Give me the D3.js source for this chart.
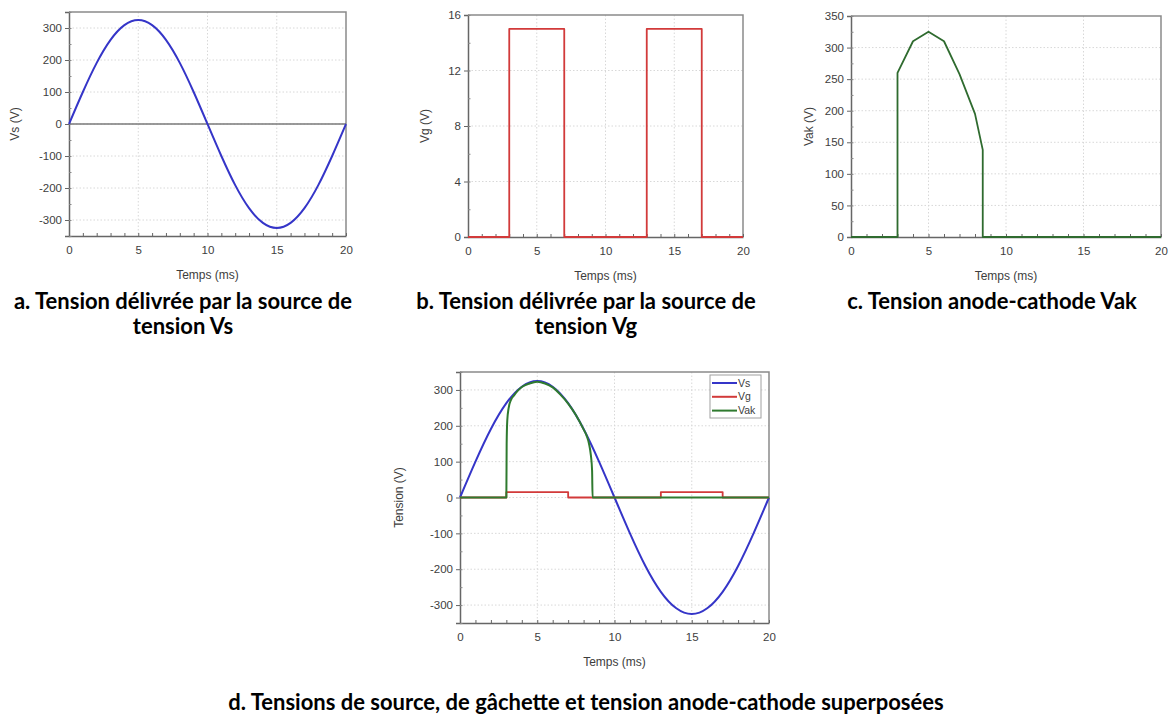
<!DOCTYPE html>
<html>
<head>
<meta charset="utf-8">
<script src="https://cdn.jsdelivr.net/npm/d3@7"></script>
<style>
  html, body { margin: 0; padding: 0; background: #fff; }
  svg { display: block; }
  .tick-label { font-family: "Liberation Sans", Arial, sans-serif; font-size: 11.5px; fill: #3d3d3d; }
  .axis-title { font-family: "Liberation Sans", Arial, sans-serif; font-size: 12px; fill: #3d3d3d; }
  .caption { font-family: Lato, "Open Sans", sans-serif; font-weight: 700; font-size: 22px; fill: #000; }
</style>
</head>
<body>
<svg id="chart" width="1171" height="718"></svg>
<script>
// ---- Data ----
const timeVs = [0,1,2,3,4,5,6,7,8,9,10,11,12,13,14,15,16,17,18,19,20];
const valuesVs = [0,100,191,263,309,325,309,263,191,100,0,-100,-191,-263,-309,-325,-309,-263,-191,-100,0];

const timeVg = [0,3,3,7,7,13,13,17,17,20];
const valuesVg = [0,0,15,15,0,0,15,15,0,0];

const timeVakC = [0,3,3,4,5,6,7,8,8.5,8.5,20];
const valuesVakC = [0,0,260,310,325,310,258,195,138,0,0];

const timeVakD = [0,3,3.02,3.06,3.15,3.3,3.5,3.7,4,4.5,5,5.5,6,6.5,7,7.5,8,8.2,8.35,8.47,8.55,8.58,20];
const valuesVakD = [0,0,150,215,250,272,285,296,308,318,323,318,307,287,262,230,190,172,150,118,75,0,0];

const xTicks = [0,5,10,15,20];
const yTicksVs = [-300,-200,-100,0,100,200,300];
const yTicksVg = [0,4,8,12,16];
const yTicksVak = [0,50,100,150,200,250,300,350];

const legendLabels = ["Vs","Vg","Vak"];
const captionA = ["a. Tension délivrée par la source de","tension Vs"];
const captionB = ["b. Tension délivrée par la source de","tension Vg"];
const captionC = ["c. Tension anode-cathode Vak"];
const captionD = ["d. Tensions de source, de gâchette et tension anode-cathode superposées"];

const colors = { Vs: "#3535c8", Vg: "#d23a3a", Vak: "#2f7a2f", VakC: "#2f6b2f" };

const zip = (t, v) => t.map((d, i) => [d, v[i]]);
const fmt = d => String(d);

const svg = d3.select("#chart");

function panel(o) {
  const g = svg.append("g");
  const x = d3.scaleLinear().domain([0, 20]).range([o.left, o.right]);
  const y = d3.scaleLinear().domain(o.yDomain).range([o.bottom, o.top]);

  // grid
  const grid = g.append("g").attr("stroke", "#d8d8d8").attr("stroke-width", 1).attr("stroke-dasharray", "1.5,2");
  grid.selectAll("line.gx").data(xTicks.slice(1, -1)).join("line")
    .attr("x1", d => x(d)).attr("x2", d => x(d)).attr("y1", o.top).attr("y2", o.bottom);
  grid.selectAll("line.gy").data(o.yTicks.filter(d => y(d) > o.top + 1 && y(d) < o.bottom - 1)).join("line")
    .attr("x1", o.left).attr("x2", o.right).attr("y1", d => y(d)).attr("y2", d => y(d));

  // frame top/right
  g.append("path")
    .attr("d", `M${o.left},${o.top}H${o.right}V${o.bottom}`)
    .attr("fill", "none").attr("stroke", "#8a8a8a").attr("stroke-width", 1.5);

  // zero line
  if (o.zeroLine) {
    g.append("line").attr("x1", o.left).attr("x2", o.right)
      .attr("y1", y(0)).attr("y2", y(0)).attr("stroke", "#7a7a7a").attr("stroke-width", 1.5);
  }

  // x axis
  const xAxis = d3.axisBottom(x).tickValues(xTicks).tickSize(0).tickPadding(10).tickFormat(fmt);
  const gx = g.append("g").attr("transform", `translate(0,${o.bottom})`).call(xAxis);
  gx.select(".domain").attr("stroke", "#666").attr("stroke-width", 1.5);
  gx.selectAll("text").attr("class", "tick-label").attr("fill", null);
  const xMinor = d3.axisBottom(x).tickValues(d3.range(0, 21, 1)).tickSize(-3).tickFormat("");
  const gxm = g.append("g").attr("transform", `translate(0,${o.bottom})`).call(xMinor);
  gxm.select(".domain").remove();
  gxm.selectAll("line").attr("stroke", "#666");

  // y axis
  const yAxis = d3.axisLeft(y).tickValues(o.yTicks).tickSize(4).tickPadding(3).tickFormat(fmt);
  const gy = g.append("g").attr("transform", `translate(${o.left},0)`).call(yAxis);
  gy.select(".domain").attr("stroke", "#666").attr("stroke-width", 1.5);
  gy.selectAll("line").attr("stroke", "#666");
  gy.selectAll("text").attr("class", "tick-label").attr("fill", null);
  const yMinor = d3.axisLeft(y).tickValues(o.yMinor).tickSize(-2.5).tickFormat("");
  const gym = g.append("g").attr("transform", `translate(${o.left},0)`).call(yMinor);
  gym.select(".domain").remove();
  gym.selectAll("line").attr("stroke", "#888");

  // titles
  g.append("text").attr("class", "axis-title").attr("text-anchor", "middle")
    .attr("x", (o.left + o.right) / 2).attr("y", o.bottom + 43).text("Temps (ms)");
  g.append("text").attr("class", "axis-title").attr("text-anchor", "middle")
    .attr("transform", `translate(${o.yTitleX},${(o.top + o.bottom) / 2}) rotate(-90)`).text(o.yTitle);

  // series
  o.series.forEach(s => {
    const line = d3.line().x(d => x(d[0])).y(d => y(d[1])).curve(s.curve || d3.curveLinear);
    g.append("path").datum(s.data).attr("d", line)
      .attr("fill", "none").attr("stroke", s.color).attr("stroke-width", s.width || 2)
      .attr("stroke-linejoin", "round");
  });
  return { g, x, y };
}

// Panel a
panel({
  left: 69, right: 346, top: 12, bottom: 236,
  yDomain: [-350, 350], yTicks: yTicksVs, yMinor: d3.range(-350, 351, 50),
  yTitle: "Vs (V)", yTitleX: 19, zeroLine: true,
  series: [{ data: zip(timeVs, valuesVs), color: colors.Vs, curve: d3.curveNatural, width: 2 }]
});

// Panel b
panel({
  left: 468, right: 743, top: 15, bottom: 237,
  yDomain: [0, 16], yTicks: yTicksVg, yMinor: d3.range(0, 17, 2),
  yTitle: "Vg (V)", yTitleX: 429,
  series: [{ data: zip(timeVg, valuesVg), color: colors.Vg, width: 1.8 }]
});

// Panel c
panel({
  left: 851, right: 1161, top: 16, bottom: 237,
  yDomain: [0, 350], yTicks: yTicksVak, yMinor: d3.range(0, 351, 25),
  yTitle: "Vak (V)", yTitleX: 813,
  series: [{ data: zip(timeVakC, valuesVakC), color: colors.VakC, width: 1.8 }]
});

// Panel d
panel({
  left: 460, right: 769, top: 372, bottom: 623,
  yDomain: [-350, 350], yTicks: yTicksVs, yMinor: d3.range(-350, 351, 50),
  yTitle: "Tension (V)", yTitleX: 403,
  series: [
    { data: zip(timeVs, valuesVs), color: colors.Vs, curve: d3.curveNatural, width: 2 },
    { data: zip(timeVg, valuesVg), color: colors.Vg, width: 1.8 },
    { data: zip(timeVakD, valuesVakD), color: colors.Vak, curve: d3.curveMonotoneX, width: 2 }
  ]
});

// Legend (panel d)
const legend = svg.append("g");
legend.append("rect").attr("x", 710).attr("y", 375).attr("width", 51).attr("height", 43)
  .attr("fill", "#fff").attr("stroke", "#a0a0a0").attr("stroke-width", 1);
const legColors = [colors.Vs, colors.Vg, colors.Vak];
legendLabels.forEach((lab, i) => {
  const yy = 383 + i * 13.8;
  legend.append("line").attr("x1", 712).attr("x2", 737).attr("y1", yy).attr("y2", yy)
    .attr("stroke", legColors[i]).attr("stroke-width", 2);
  legend.append("text").attr("class", "tick-label").attr("x", 738).attr("y", yy + 3.5)
    .style("font-size", "10.5px").text(lab);
});

// Captions
function caption(lines, cx, y0) {
  lines.forEach((t, i) => {
    svg.append("text").attr("class", "caption").attr("text-anchor", "middle")
      .attr("x", cx).attr("y", y0 + i * 25).text(t);
  });
}
caption(captionA, 183, 309);
caption(captionB, 586, 309);
caption(captionC, 992, 309);
caption(captionD, 586, 710);
</script>
</body>
</html>
